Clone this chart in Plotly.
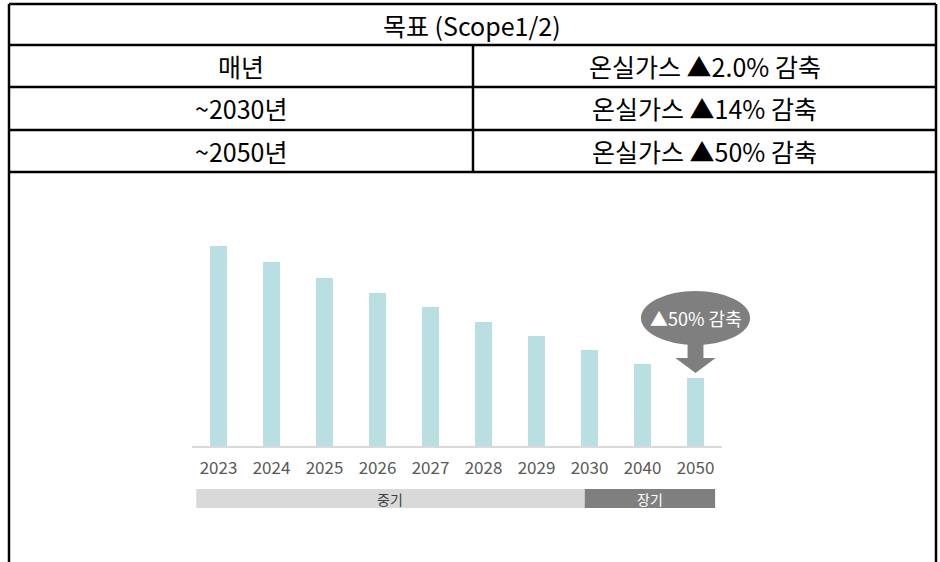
import plotly.graph_objects as go

# ---- data ----
years = ["2023", "2024", "2025", "2026", "2027", "2028", "2029", "2030", "2040", "2050"]
emissions = [100, 92, 84.2, 76.7, 69.3, 62.2, 55, 48, 41, 34]

table_header = "목표 (Scope1/2)"
table_periods = ["매년", "~2030년", "~2050년"]
table_targets = ["온실가스 ▲2.0% 감축", "온실가스 ▲14% 감축", "온실가스 ▲50% 감축"]

phase_labels = ["중기", "장기"]
callout_text = "▲50% 감축"

# ---- layout helpers ----
W, H = 940, 562
FONT = "Noto Sans CJK KR"
AX_X0, AX_X1 = 192, 722  # pixel extent of the category axis


def px(x):
    return x / W


def py(y):
    return 1 - y / H


x_idx = list(range(len(years)))
step = (AX_X1 - AX_X0) / len(years)


def cat_to_paper(v):
    # category index -> paper x (the axis spans [-0.5, n-0.5])
    return px(AX_X0 + (v + 0.5) * step)


fig = go.Figure()
fig.add_trace(go.Bar(
    x=x_idx, y=emissions, width=0.31,
    marker=dict(color="#badfe3", line=dict(width=0)),
    hoverinfo="skip", showlegend=False,
))

shapes = []
annotations = []
line = dict(color="black", width=2.5)

# table frame
left, right, mid = 9, 936, 473
rows = [4, 45, 87, 130, 172]
for yy in rows:
    shapes.append(dict(type="line", xref="paper", yref="paper",
                       x0=px(left), x1=px(right), y0=py(yy), y1=py(yy), line=line))
for xx in (left, right):
    shapes.append(dict(type="line", xref="paper", yref="paper",
                       x0=px(xx), x1=px(xx), y0=py(rows[0]), y1=py(H + 2), line=line))
shapes.append(dict(type="line", xref="paper", yref="paper",
                   x0=px(mid), x1=px(mid), y0=py(rows[1]), y1=py(rows[-1]), line=line))

tfont = dict(family=FONT, size=25, color="black")
annotations.append(dict(xref="paper", yref="paper", x=px((left + right) / 2),
                        y=py((rows[0] + rows[1]) / 2), text=table_header,
                        showarrow=False, font=tfont, xanchor="center", yanchor="middle"))
for i, (p, t) in enumerate(zip(table_periods, table_targets)):
    yc = py((rows[i + 1] + rows[i + 2]) / 2)
    annotations.append(dict(xref="paper", yref="paper", x=px((left + mid) / 2), y=yc,
                            text=p, showarrow=False, font=tfont,
                            xanchor="center", yanchor="middle"))
    annotations.append(dict(xref="paper", yref="paper", x=px((mid + right) / 2), y=yc,
                            text=t, showarrow=False, font=tfont,
                            xanchor="center", yanchor="middle"))

# phase bands under the axis
band_y0, band_y1 = py(508), py(489)
bands = [(-0.42, 6.91, "#d9d9d9", "#404040"), (6.91, 9.37, "#7f7f7f", "white")]
for (x0, x1, fill, tc), lab in zip(bands, phase_labels):
    shapes.append(dict(type="rect", xref="paper", yref="paper",
                       x0=cat_to_paper(x0), x1=cat_to_paper(x1),
                       y0=band_y0, y1=band_y1, fillcolor=fill, line=dict(width=0),
                       layer="below"))
    annotations.append(dict(xref="paper", yref="paper", x=cat_to_paper((x0 + x1) / 2),
                            y=(band_y0 + band_y1) / 2, text=lab, showarrow=False,
                            font=dict(family=FONT, size=14, color=tc),
                            xanchor="center", yanchor="middle"))

# callout above the last bar
cx = x_idx[-1]
top = emissions[-1]
gray = "#7f7f7f"
tip = top + 2.5
head_base = tip + 7.5
ell_bottom = tip + 14
ell_top = ell_bottom + 27
shapes.append(dict(type="circle", xref="paper", yref="y",
                   x0=cat_to_paper(cx - 1.03), x1=cat_to_paper(cx + 1.03),
                   y0=ell_bottom, y1=ell_top, fillcolor=gray, line=dict(width=0)))
sw, hw = 0.15, 0.38
path = (f"M {cx - sw} {ell_bottom + 3} L {cx + sw} {ell_bottom + 3} L {cx + sw} {head_base} "
        f"L {cx + hw} {head_base} L {cx} {tip} L {cx - hw} {head_base} L {cx - sw} {head_base} Z")
shapes.append(dict(type="path", xref="x", yref="y", path=path, fillcolor=gray,
                   line=dict(width=0)))
annotations.append(dict(xref="x", yref="y", x=cx, y=(ell_bottom + ell_top) / 2,
                        text=callout_text, showarrow=False,
                        font=dict(family=FONT, size=18, color="white"),
                        xanchor="center", yanchor="middle"))

fig.update_layout(
    width=W, height=H, margin=dict(l=0, r=0, t=0, b=0),
    paper_bgcolor="white", plot_bgcolor="white",
    shapes=shapes, annotations=annotations,
    xaxis=dict(domain=[px(AX_X0), px(AX_X1)], range=[-0.5, len(years) - 0.5],
               tickvals=x_idx, ticktext=years, showgrid=False, zeroline=False,
               showline=True, linecolor="#d9d9d9", linewidth=2,
               ticks="outside", ticklen=6, tickcolor="rgba(0,0,0,0)",
               tickfont=dict(family=FONT, size=17, color="#595959"), fixedrange=True),
    yaxis=dict(domain=[py(446), py(246)], range=[0, 100], visible=False, fixedrange=True),
    bargap=0,
)

fig.write_html("out.html")
